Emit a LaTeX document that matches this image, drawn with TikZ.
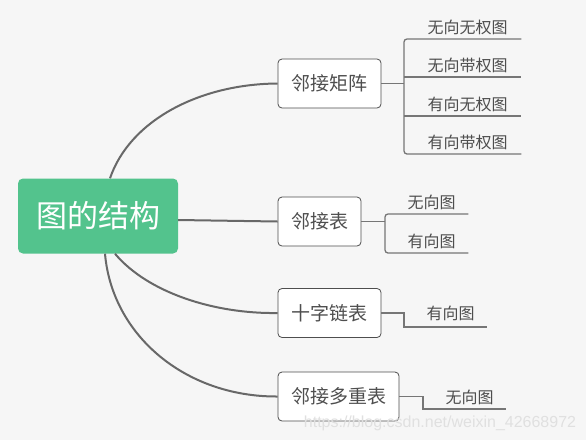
\documentclass[tikz,border=0pt]{standalone}
\usepackage{fontspec}
\usepackage{tikz}
\usetikzlibrary{positioning,calc}
\newfontfamily\cjk{Noto Sans CJK SC}
\newfontfamily\wmfont{Liberation Sans}
\definecolor{canvas}{RGB}{246,246,246}
\definecolor{rootgreen}{RGB}{83,195,141}
\definecolor{branch}{RGB}{104,104,104}
\definecolor{twigc}{RGB}{118,118,118}
\definecolor{inkc}{RGB}{78,78,78}

\tikzset{
  topic/.style={draw=inkc, line width=0.8pt, fill=white, rounded corners=4pt,
    minimum height=49pt, inner xsep=12pt, text=inkc, font=\cjk\fontsize{19}{19}\selectfont},
  leaf/.style={anchor=south west, minimum height=23pt, inner sep=0pt,
    execute at begin node=\hspace*{10pt},
    text=inkc, font=\cjk\fontsize{16}{16}\selectfont},
  bough/.style={branch, line width=2pt},
  twig/.style={twigc, line width=1.3pt}
}

\begin{document}
\begin{tikzpicture}[x=1pt, y=-1pt]
        \fill[canvas] (0,0) rectangle (586,440);
        \useasboundingbox (0,0) rectangle (586,440);
        % root
        \node[fill=rootgreen, rounded corners=5pt, minimum width=160pt, minimum height=75pt,
          text=white, font=\cjk\fontsize{31}{31}\selectfont] (root) at (98,216) {图的结构};
        % topics
        \node[topic, minimum width=103pt] (adjm) at (329.5,83.5) {邻接矩阵};
        \node[topic, minimum width=83pt]  (adjl) at (319.5,221.5) {邻接表};
        \node[topic, minimum width=103pt] (orth) at (329.5,313) {十字链表};
        \node[topic, minimum width=121pt] (mult) at (338.5,396.5) {邻接多重表};
        % curves from the root
        \draw[bough] (root.north -| 110,0) .. controls (130,120) and (200,84) .. (adjm.west);
        \draw[bough] (root.east |- 0,220) -- (adjl.west);
        \draw[bough] (root.south -| 115,0) .. controls (148,293) and (215,314) .. (orth.west);
        \draw[bough] (root.south -| 105,0) .. controls (112,335) and (185,397) .. (mult.west);
        % leaves of the matrix
        \node[leaf, minimum width=117pt] (m1) at (404,39)  {无向无权图};
        \node[leaf, minimum width=117pt] (m2) at (404,77)  {无向带权图};
        \node[leaf, minimum width=117pt] (m3) at (404,116) {有向无权图};
        \node[leaf, minimum width=117pt] (m4) at (404,154) {有向带权图};
        \draw[twig] (adjm.east) -- (adjm.east -| m1.south west);
        \draw[twig, rounded corners=3pt] (m1.south east) -- (m1.south west) -- (m4.south west) -- (m4.south east);
        \draw[twig] (m2.south west) -- (m2.south east);
        \draw[twig] (m3.south west) -- (m3.south east);
        % leaves of the list
        \node[leaf, minimum width=83pt] (l1) at (385,214) {无向图};
        \node[leaf, minimum width=83pt] (l2) at (385,253) {有向图};
        \draw[twig] (adjl.east) -- (adjl.east -| l1.south west);
        \draw[twig, rounded corners=3pt] (l1.south east) -- (l1.south west) -- (l2.south west) -- (l2.south east);
        % orthogonal list
        \node[leaf, minimum width=83pt, minimum height=26pt] (o1) at (404,327) {有向图};
        \draw[twig] (orth.east) -- (orth.east -| o1.south west) -- (o1.south west) -- (o1.south east);
        % multilist
        \node[leaf, minimum width=83pt] (u1) at (423,409) {无向图};
        \draw[twig] (mult.east) -- (mult.east -| u1.south west) -- (u1.south west) -- (u1.south east);
        % watermark
        \node[text=black!12, font=\wmfont\fontsize{16}{16}\selectfont] (wm) at (440,423) {https://blog.csdn.net/weixin\_42668972};
      \end{tikzpicture}
\end{document}
